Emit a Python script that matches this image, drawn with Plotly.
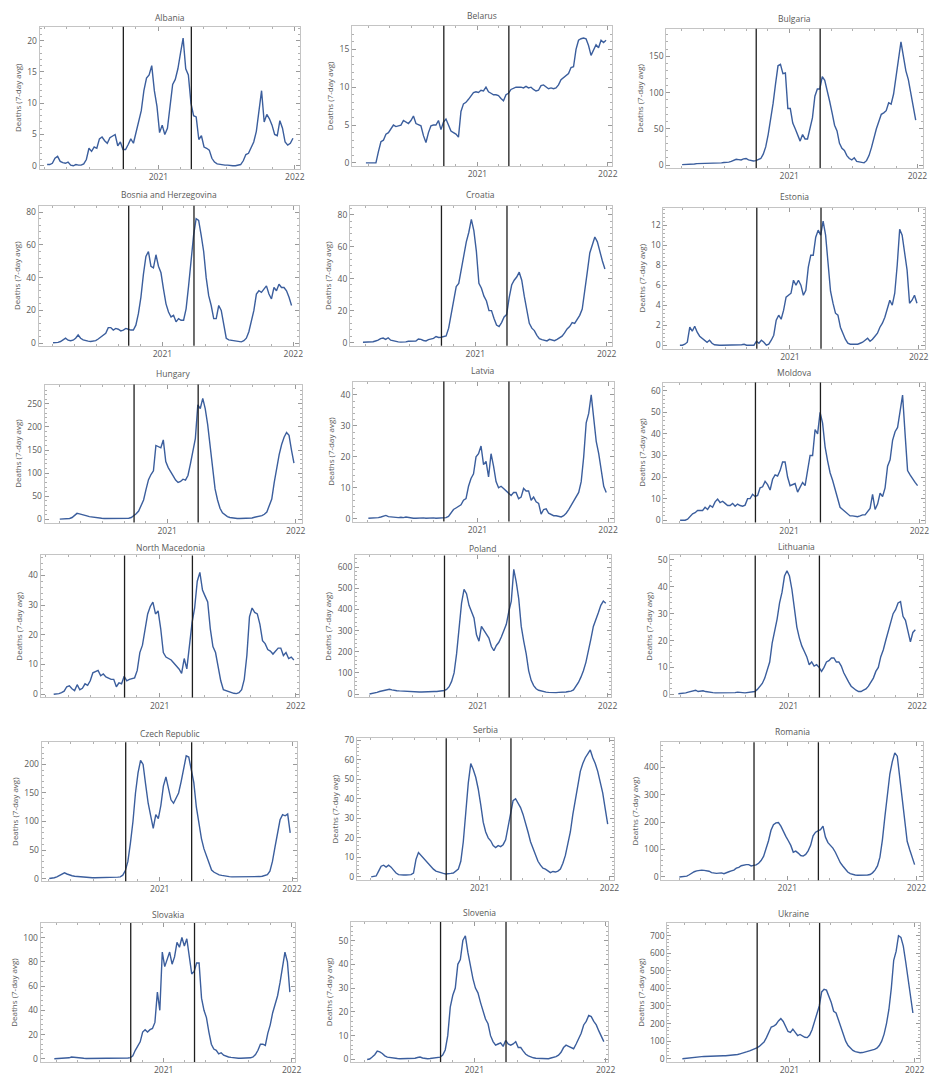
import plotly.graph_objects as go
import pandas as pd

N = None
# weekly sample dates (Mondays) from 2020-02-24 to 2021-12-27
dates = pd.date_range("2020-02-24", periods=97, freq="7D")

countries = ["Albania", "Belarus", "Bulgaria",
             "Bosnia and Herzegovina", "Croatia", "Estonia",
             "Hungary", "Latvia", "Moldova",
             "North Macedonia", "Poland", "Lithuania",
             "Czech Republic", "Serbia", "Romania",
             "Slovakia", "Slovenia", "Ukraine"]

albania = [N, N, 0.2, 0.2, 0.4, 1.2, 1.5, 0.7, 0.5, 0.4,
           0.6, 0.1, 0.0, 0.2, 0.1, 0.1, 0.3, 1.0, 2.8, 2.3,
           3.0, 2.8, 4.3, 4.6, 4.0, 3.6, 4.5, 4.8, 5.0, 3.2,
           3.8, 2.6, 2.6, 3.4, 4.3, 3.6, 5.5, 7.0, 8.8, 12.0,
           14.0, 14.5, 16.0, 12.0, 9.5, 5.3, 6.5, 5.0, 6.0, 9.5,
           13.0, 13.8, 15.5, 18.0, 20.4, 15.5, 14.5, 10.0, 8.0, 7.8,
           4.2, 4.8, 3.0, 2.8, 2.5, 1.2, 0.6, 0.3, 0.2, 0.2,
           0.1, 0.1, 0.0, 0.0, 0.0, 0.1, 0.2, 0.8, 1.8, 2.0,
           2.8, 3.8, 5.5, 8.5, 12.0, 7.0, 8.2, 7.5, 6.5, 5.0,
           4.8, 7.2, 6.0, 3.8, 3.3, 3.6, 4.4]

belarus = [0, 0, 0, 0, 0, 1.5, 2.8, 3.0, 3.8, 4.0,
           4.6, 5.0, 4.8, 4.9, 5.0, 5.6, 5.4, 5.2, 5.6, 6.2,
           5.2, 5.0, 4.9, 3.6, 2.7, 4.0, 4.9, 5.0, 5.0, 5.6,
           4.4, 5.4, 5.8, 5.0, 4.2, 4.0, 3.8, 3.4, 6.8, 7.8,
           8.0, 8.4, 8.8, 9.3, 9.4, 9.3, 9.6, 9.5, 10.0, 9.4,
           9.2, 9.0, 9.0, 8.9, 8.5, 8.2, 9.0, 9.2, 9.7, 9.9,
           10.0, 10.0, 10.0, 9.9, 10.1, 9.9, 10.0, 9.7, 9.5, 9.6,
           10.2, 10.3, 10.1, 9.8, 9.9, 9.8, 9.9, 10.3, 11.0, 11.3,
           11.5, 11.8, 12.6, 12.7, 15.0, 16.2, 16.4, 16.5, 16.4, 15.5,
           14.2, 15.0, 15.6, 15.2, 16.2, 15.9, 16.2]

bulgaria = [N, 0.5, 0.5, 1, 1, 1.5, 1.5, 2, 2, 2,
            2.5, 2, 2.5, 2.5, 2.5, 3, 2.5, 3, 3.5, 3.5,
            4, 5, 6, 8, 7.5, 7, 8.5, 9, 7, 6,
            5.5, 6, 7, 9, 15, 25, 42, 62, 85, 112,
            137, 139, 126, 127, 78, 78, 58, 50, 42, 33,
            42, 36, 36, 52, 65, 95, 105, 105, 122, 117,
            104, 88, 72, 55, 47, 30, 23, 20, 13, 9,
            7, 10, 5, 4, 3, 3, 6, 13, 24, 38,
            50, 60, 70, 72, 75, 86, 84, 98, 122, 145,
            170, 150, 130, 118, 100, 83, 62]

bosnia = [N, 0.2, 0.3, 0.5, 1.0, 2.2, 3.0, 1.8, 1.5, 1.8,
          3.0, 5.0, 3.0, 2.0, 1.5, 1.2, 1.0, 1.2, 1.5, 2.5,
          3.5, 4.5, 6.0, 9.5, 9.5, 8.0, 9.0, 8.5, 7.5, 8.0,
          9.0, 8.5, 8.0, 8.0, 11.0, 18.0, 28.0, 42.0, 53.0, 56.0,
          47.0, 46.0, 54.0, 47.0, 43.0, 33.0, 24.0, 19.0, 16.0, 17.0,
          13.0, 15.0, 14.0, 14.0, 21.0, 35.0, 50.0, 66.0, 76.0, 75.0,
          66.0, 56.0, 40.0, 29.0, 23.0, 15.0, 15.0, 23.0, 20.0, 10.0,
          3.0, 2.0, 1.8, 1.5, 1.2, 1.0, 0.8, 1.5, 3.0, 7.0,
          14.0, 20.0, 30.0, 32.0, 31.0, 33.0, 35.0, 30.0, 27.0, 34.0,
          32.0, 36.0, 34.0, 34.0, 32.0, 28.0, 23.0]

croatia = [0.2, 0.2, 0.3, 0.3, 0.5, 1.0, 1.5, 2.5, 2.8, 2.0,
           3.0, 1.5, 1.0, 0.6, 0.4, 0.3, 0.3, 0.4, 0.8, 0.8,
           0.6, 1.0, 2.2, 2.0, 1.3, 1.0, 1.8, 2.2, 2.6, 3.8,
           3.2, 3.3, 3.8, 4.2, 9.0, 17.0, 26.0, 35.0, 37.0, 46.0,
           55.0, 63.0, 69.0, 77.0, 70.0, 57.0, 37.0, 34.0, 29.0, 26.0,
           20.0, 20.0, 15.0, 11.0, 10.0, 12.5, 16.0, 17.5, 28.0, 36.0,
           39.0, 41.0, 44.0, 39.0, 29.0, 20.0, 12.0, 9.0, 7.5, 4.5,
           2.5, 1.8, 1.2, 1.0, 2.0, 1.5, 1.2, 2.0, 2.8, 4.0,
           6.0, 8.5, 10.0, 12.5, 12.0, 14.5, 17.0, 21.0, 31.0, 44.0,
           56.0, 61.0, 66.0, 63.0, 56.0, 51.0, 46.0]

estonia = [0, 0, 0.1, 0.3, 1.8, 1.4, 1.9, 1.3, 0.9, 0.7,
           0.5, 0.3, 0.5, 0.2, 0.05, 0, 0, 0, 0, 0,
           0, 0, 0, 0, 0, 0.05, 0.1, 0, 0, 0,
           0, 0.4, 0.2, 0.5, 0.3, 0, 0.1, 0.5, 1.0, 2.5,
           3.0, 2.6, 3.5, 4.8, 5.0, 5.2, 6.5, 6.0, 6.5, 6.0,
           5.0, 5.5, 7.8, 9.0, 9.0, 10.8, 11.5, 11.0, 12.4, 11.0,
           8.2, 5.4, 4.2, 3.2, 3.0, 1.8, 1.2, 0.6, 0.2, 0.1,
           0.1, 0.1, 0.1, 0.2, 0.3, 0.5, 0.7, 0.4, 0.6, 0.9,
           1.2, 1.8, 2.2, 2.8, 3.8, 4.5, 4.0, 5.2, 8.0, 11.6,
           11.0, 9.0, 7.5, 4.2, 4.5, 5.0, 4.2]

hungary = [N, 0.5, 0.8, 1, 1.5, 2, 4, 9, 13, 12,
           10, 9, 7.5, 6, 5, 4.5, 3.5, 3, 2.5, 2,
           2, 1.5, 1.5, 1.2, 1, 1, 1, 1, 1.5, 2.5,
           4, 8, 12, 18, 29, 42, 65, 86, 97, 105,
           160, 158, 155, 172, 125, 112, 104, 94, 85, 80,
           82, 87, 85, 95, 120, 148, 175, 248, 240, 262,
           240, 205, 155, 105, 66, 42, 24, 14, 9, 6,
           4, 3, 2.5, 2, 2, 2, 2, 2, 2.5, 3,
           4.5, 5.5, 6, 8, 11, 16, 30, 44, 80, 115,
           140, 162, 178, 188, 182, 150, 122]

latvia = [N, 0.2, 0.2, 0.3, 0.3, 0.4, 0.6, 0.8, 1.1, 0.7,
          0.6, 0.5, 0.5, 0.4, 0.5, 0.4, 0.6, 0.4, 0.2, 0.2,
          0.2, 0.3, 0.2, 0.3, 0.2, 0.3, 0.2, 0.3, 0.2, 0.3,
          0.2, 0.3, 0.4, 0.8, 2.0, 3.0, 3.5, 4.0, 4.5, 6.0,
          6.5, 10.5, 13.0, 14.5, 20.0, 21.0, 23.5, 17.5, 18.5, 13.5,
          21.0, 17.0, 12.0, 10.0, 10.5, 9.8, 9.0, 8.0, 7.5, 8.5,
          8.5, 6.5, 7.0, 9.8, 9.0, 9.0, 6.0, 7.0, 5.5, 5.0,
          1.5, 3.0, 3.2, 1.8, 1.3, 1.0, 1.0, 0.8, 0.6, 1.0,
          1.8, 3.0, 4.5, 5.5, 7.0, 8.5, 12.0, 20.0, 31.0, 34.0,
          40.0, 33.0, 25.0, 21.0, 16.0, 10.5, 8.5]

moldova = [N, 0, 0, 0, 0.5, 2.0, 3.0, 3.5, 4.5, 4.5,
           4.5, 6.0, 5.0, 6.8, 6.0, 8.5, 9.8, 8.2, 8.8, 7.8,
           6.8, 6.8, 7.8, 6.5, 7.5, 6.8, 6.5, 7.0, 10.0, 10.0,
           12.0, 11.0, 11.5, 15.0, 15.5, 18.0, 16.5, 14.0, 19.0, 21.0,
           20.5, 23.0, 27.0, 27.0, 20.0, 16.0, 16.5, 17.0, 13.0, 15.0,
           17.5, 16.0, 24.0, 30.0, 30.0, 42.0, 40.0, 50.0, 45.0, 34.0,
           27.5, 22.0, 18.5, 14.0, 10.0, 6.0, 5.0, 4.0, 2.8, 2.0,
           2.0, 1.8, 1.6, 2.0, 2.5, 2.5, 4.0, 5.5, 12.0, 5.0,
           7.5, 12.5, 11.0, 15.0, 25.0, 28.0, 37.0, 41.0, 43.0, 50.0,
           58.0, 40.0, 23.0, 21.0, 19.0, 17.5, 16.0]

north_macedonia = [N, N, N, N, 0, 0, 0.2, 0.5, 1.0, 2.5,
                   2.8, 1.8, 1.2, 3.2, 1.5, 2.0, 3.5, 3.0, 4.5, 7.2,
                   7.5, 8.0, 6.2, 6.8, 5.8, 5.5, 5.0, 5.0, 2.5, 3.8,
                   3.5, 6.0, 4.5, 5.0, 5.2, 5.5, 8.0, 14.0, 16.5, 22.0,
                   27.0, 29.5, 31.0, 27.0, 28.0, 22.0, 14.0, 12.5, 12.0, 11.5,
                   10.5, 9.5, 8.5, 7.0, 12.0, 8.5, 16.0, 24.0, 29.0, 38.0,
                   41.0, 35.0, 33.0, 31.0, 22.0, 16.0, 14.0, 9.0, 4.5, 1.5,
                   1.2, 0.8, 0.4, 0.3, 0.2, 0.5, 1.5, 5.0, 13.0, 26.0,
                   29.0, 27.5, 27.0, 23.5, 18.0, 17.0, 15.0, 14.5, 13.5, 14.5,
                   15.5, 15.5, 13.0, 14.0, 12.0, 12.5, 11.5]

poland = [N, 0.5, 2, 5, 8, 12, 15, 19, 21, 23,
          20, 17, 16, 15, 14, 16, 13, 13, 12, 11,
          11, 10, 10, 11, 11, 12, 12, 12, 12, 13,
          15, 17, 22, 35, 60, 100, 190, 330, 430, 495,
          475, 420, 390, 360, 280, 250, 320, 300, 285, 265,
          225, 205, 230, 245, 270, 300, 330, 390, 440, 590,
          530, 450, 320, 250, 190, 110, 65, 40, 25, 18,
          14, 11, 9, 8, 7, 7, 7, 8, 8, 9,
          10, 12, 14, 20, 35, 55, 80, 110, 150, 200,
          260, 320, 350, 385, 420, 440, 430]

lithuania = [0.2, 0.3, 0.3, 0.5, 0.8, 1.0, 1.3, 1.5, 1.0, 1.2,
             1.3, 1.0, 0.8, 0.7, 0.6, 0.5, 0.5, 0.4, 0.4, 0.5,
             0.5, 0.6, 0.5, 0.6, 0.8, 0.8, 0.6, 0.5, 0.6, 0.9,
             1.0, 1.0, 1.8, 2.8, 4.0, 6.0, 9.0, 12.0, 19.0, 23.0,
             28.0, 34.0, 38.0, 44.0, 46.0, 44.0, 39.0, 32.0, 25.0, 21.0,
             18.0, 16.0, 14.0, 11.0, 12.0, 10.5, 11.0, 10.0, 8.5, 10.0,
             12.0, 12.5, 13.5, 13.5, 12.0, 12.0, 10.5, 8.0, 6.0, 4.5,
             3.0, 2.2, 1.5, 1.0, 1.0, 1.5, 2.0, 3.0, 4.5, 6.0,
             8.5, 10.0, 14.0, 16.5, 20.0, 23.5, 26.0, 30.0, 31.5, 34.0,
             34.5, 29.0, 27.5, 23.0, 19.5, 23.0, 24.0]

czech = [N, 0.2, 0.5, 1.5, 3, 5, 8, 10, 8, 6,
         5, 4, 3.5, 3, 2.5, 2, 1.8, 1.5, 1.5, 1.5,
         1.5, 1.8, 2, 2, 2.2, 2, 2.3, 2.5, 2.5, 3,
         6, 14, 30, 62, 100, 150, 185, 207, 200, 165,
         132, 110, 88, 112, 105, 128, 162, 178, 160, 138,
         132, 140, 150, 170, 195, 215, 213, 190, 168, 125,
         95, 70, 52, 40, 25, 15, 11, 8, 6.5, 5.5,
         4.5, 4, 3.5, 3, 3, 3, 2.5, 2.5, 2.5, 2.5,
         2.5, 2.5, 2.8, 3, 3.5, 4, 5, 7, 13, 30,
         55, 80, 103, 112, 110, 113, 80]

serbia = [N, 0, 0.2, 0.5, 3, 5.5, 6, 5, 6, 5,
          3.5, 2, 1.2, 1, 1, 1, 1, 1.2, 2, 9,
          12.5, 11, 9.5, 8, 7, 5.5, 4, 3, 2.5, 2,
          1.8, 1.5, 1.5, 1.8, 2, 3, 4, 8, 18, 33,
          48, 58, 55, 51, 45, 37, 28, 23, 20, 18.5,
          16, 15, 16, 15.5, 16.5, 19, 26, 34, 39, 40,
          37.5, 35.5, 32, 28, 23, 18, 14.5, 11, 8, 6,
          4.5, 4, 3, 2.2, 2.8, 2.5, 3, 4, 7, 11,
          17, 23, 32, 40, 48, 54, 58, 61, 63, 65,
          61, 58, 54, 48, 43, 35, 27]

romania = [N, 0, 1, 2, 3, 8, 14, 19, 22, 24,
           25, 24, 23, 21, 16, 14, 13, 14, 15, 12,
           17, 19, 22, 25, 32, 35, 41, 44, 45, 45,
           40, 42, 44, 50, 60, 75, 100, 132, 170, 190,
           197, 198, 185, 165, 148, 132, 115, 90, 94, 87,
           78, 76, 82, 95, 115, 150, 163, 168, 172, 185,
           145, 125, 116, 105, 90, 70, 52, 40, 28, 18,
           12, 9, 7, 6, 6, 6, 6, 7, 9, 15,
           25, 40, 72, 135, 220, 300, 375, 420, 452, 440,
           360, 280, 190, 130, 100, 75, 45]

slovakia = [0, 0.1, 0.1, 0.1, 0.2, 0.3, 0.8, 1.5, 1.2, 0.8,
            0.6, 0.5, 0.4, 0.3, 0.3, 0.3, 0.3, 0.3, 0.3, 0.3,
            0.3, 0.3, 0.4, 0.4, 0.4, 0.5, 0.5, 0.6, 0.6, 0.6,
            0.7, 1.0, 2.5, 7.0, 11.0, 14.0, 22.0, 24.0, 22.0, 24.0,
            25.0, 30.0, 55.0, 40.0, 88.0, 76.0, 82.0, 88.0, 78.0, 84.0,
            96.0, 92.0, 100.0, 93.0, 99.0, 85.0, 70.0, 72.0, 79.0, 79.0,
            50.0, 40.0, 34.0, 22.0, 12.0, 8.0, 7.0, 4.0, 5.0, 3.0,
            2.0, 1.5, 1.2, 0.8, 0.6, 0.5, 0.5, 0.5, 0.5, 0.6,
            0.8, 1.5, 3.5, 7.0, 12.0, 12.0, 11.0, 21.0, 28.0, 38.0,
            46.0, 52.0, 63.0, 76.0, 88.0, 80.0, 55.0]

slovenia = [N, N, 0, 0.2, 1.0, 2.0, 3.5, 3.2, 2.5, 1.5,
            1.0, 0.8, 0.5, 0.4, 0.4, 0.3, 0.3, 0.3, 0.3, 0.4,
            0.4, 0.5, 0.8, 1.0, 0.6, 0.4, 0.3, 0.4, 0.5, 0.6,
            0.8, 1.0, 1.8, 4.0, 10.0, 22.0, 27.0, 30.0, 40.0, 42.0,
            50.0, 52.0, 45.0, 39.0, 34.0, 30.0, 28.0, 24.0, 20.0, 17.0,
            15.0, 10.0, 7.5, 6.0, 6.5, 7.0, 5.5, 8.0, 6.5, 6.0,
            6.5, 7.5, 5.0, 5.0, 3.5, 2.2, 1.5, 1.0, 0.7, 0.5,
            0.4, 0.3, 0.3, 0.3, 0.3, 0.6, 0.8, 1.2, 1.8, 3.0,
            5.0, 6.0, 5.5, 5.0, 4.5, 6.5, 9.0, 11.0, 14.5, 16.0,
            18.5, 18.0, 16.0, 14.5, 12.0, 10.0, 7.5]

ukraine = [0, 2, 3, 5, 6, 8, 10, 11, 12, 13,
           14, 15, 15, 15, 15, 16, 17, 17, 17, 18,
           19, 20, 22, 24, 28, 31, 35, 40, 45, 50,
           55, 62, 70, 80, 95, 120, 150, 180, 185, 195,
           215, 228, 212, 185, 155, 150, 168, 150, 132, 138,
           130, 122, 120, 135, 165, 210, 260, 300, 380, 395,
           390, 360, 320, 270, 260, 220, 180, 140, 100, 75,
           58, 47, 40, 35, 34, 35, 38, 42, 45, 50,
           53, 60, 75, 100, 140, 200, 280, 400, 560, 610,
           700, 690, 640, 550, 450, 340, 260]

series = [albania, belarus, bulgaria, bosnia, croatia, estonia,
          hungary, latvia, moldova, north_macedonia, poland, lithuania,
          czech, serbia, romania, slovakia, slovenia, ukraine]

# y-axis tick spacing and ranges
y_steps = [5, 5, 50, 20, 20, 2, 50, 10, 10, 10, 100, 10, 50, 10, 100, 20, 10, 100]
y_ranges = [(-0.5, 22.2), (-0.4, 18.1), (-4, 188), (-1.6, 84), (-2.0, 85.6), (-0.35, 13.75),
            (-7, 292), (-0.9, 44.3), (-1.1, 63.8), (-1.1, 46.7), (-16, 656), (-1.2, 51.7),
            (-4.7, 239), (-1.7, 71), (-12, 491), (-2.7, 112), (-1.1, 57.8), (-19, 772)]
x_ranges = [("2020-02-18", "2022-01-16"), ("2020-01-16", "2022-01-12"), ("2020-01-17", "2022-01-17"),
            ("2020-01-22", "2022-01-18"), ("2020-01-19", "2022-01-15"), ("2020-01-08", "2022-01-19"),
            ("2020-01-19", "2022-01-20"), ("2020-01-19", "2022-01-17"), ("2020-01-15", "2022-01-17"),
            ("2020-02-17", "2022-01-11"), ("2020-01-21", "2022-01-10"), ("2020-02-01", "2022-01-18"),
            ("2020-02-10", "2022-01-16"), ("2020-01-22", "2022-01-13"), ("2020-01-11", "2022-01-20"),
            ("2020-01-16", "2022-01-12"), ("2020-01-24", "2022-01-07"), ("2020-01-11", "2022-01-17")]
event_dates = ["2020-09-29", "2021-03-30"]

# panel frames in pixels: left, right, top, bottom, title y
frames = [(40, 303, 23, 166, 14), (355, 617, 22, 163, 12), (672, 931, 25, 165, 15),
          (39, 302, 203, 344, 192), (353, 617, 203, 344, 192), (669, 933, 205, 347, 194),
          (45, 305, 383, 522, 372), (356, 619, 380, 521, 369), (669, 933, 381, 522, 371),
          (41, 302, 555, 698, 547), (358, 616, 555, 698, 548), (676, 931, 555, 698, 546),
          (42, 300, 743, 883, 734), (360, 619, 739, 882, 730), (667, 931, 743, 882, 732),
          (41, 298, 925, 1065, 916), (354, 613, 924, 1065, 914), (673, 928, 925, 1065, 915)]

W, H = 942, 1075
FONT = "Open Sans, DejaVu Sans, sans-serif"
LINE_COLOR = "#3b5e9d"
FRAME_COLOR = "#c4c4c4"
TEXT_COLOR = "#595959"

fig = go.Figure()
layout = dict(width=W, height=H, margin=dict(l=0, r=0, t=0, b=0),
              paper_bgcolor="white", plot_bgcolor="white", showlegend=False,
              font=dict(family=FONT, size=8, color=TEXT_COLOR))
annotations = []
shapes = []

for k, (name, vals) in enumerate(zip(countries, series)):
    idx = k + 1
    xa = "x" if idx == 1 else f"x{idx}"
    ya = "y" if idx == 1 else f"y{idx}"
    l, r, t, b, ty = frames[k]
    fig.add_trace(go.Scatter(x=dates, y=vals, mode="lines", xaxis=xa, yaxis=ya,
                             line=dict(color=LINE_COLOR, width=1.4), hoverinfo="skip"))
    common = dict(showline=True, linecolor=FRAME_COLOR, linewidth=1, mirror="allticks",
                  ticks="inside", ticklen=4, tickcolor="#9a9a9a", tickwidth=1,
                  showgrid=False, zeroline=False,
                  tickfont=dict(family=FONT, size=8.5, color=TEXT_COLOR))
    layout["xaxis" if idx == 1 else f"xaxis{idx}"] = dict(
        common, type="date", domain=[l / W, r / W], anchor=ya,
        range=list(x_ranges[k]), dtick="M12", tick0="2020-01-01", tickformat="%Y",
        minor=dict(dtick="M2", tick0="2020-01-01", ticks="inside", ticklen=2, tickcolor="#b0b0b0"))
    step = y_steps[k]
    layout["yaxis" if idx == 1 else f"yaxis{idx}"] = dict(
        common, domain=[1 - b / H, 1 - t / H], anchor=xa,
        range=list(y_ranges[k]), dtick=step, tick0=0,
        minor=dict(dtick=step / 5, tick0=0, ticks="inside", ticklen=2, tickcolor="#b0b0b0"),
        title=dict(text="Deaths (7-day avg)", font=dict(family=FONT, size=8, color=TEXT_COLOR),
                   standoff=4))
    annotations.append(dict(text=name, x=(l + r) / 2 / W, y=1 - ty / H, xref="paper", yref="paper",
                            showarrow=False, xanchor="center", yanchor="middle",
                            font=dict(family=FONT, size=8.5, color=TEXT_COLOR)))
    for d in event_dates:
        shapes.append(dict(type="line", xref=xa, yref=f"{ya} domain", x0=d, x1=d, y0=0, y1=1,
                           line=dict(color="#1e1e1e", width=1.3)))

layout["annotations"] = annotations
layout["shapes"] = shapes
fig.update_layout(**layout)

fig.write_html("out.html", config={"displayModeBar": False},
               post_script="document.body.style.margin='0px';")
